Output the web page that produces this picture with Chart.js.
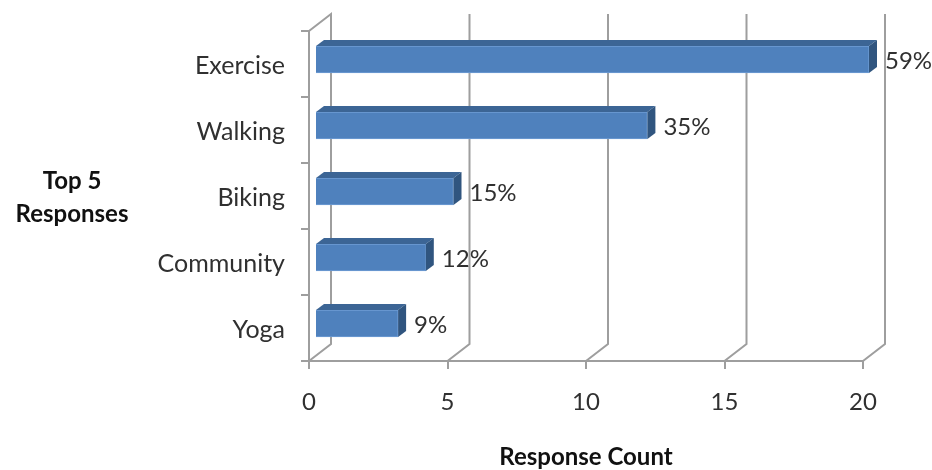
<!DOCTYPE html>
<html>
<head>
<meta charset="utf-8">
<style>html,body{margin:0;padding:0;background:#fff}canvas{display:block}</style>
<script src="https://cdn.jsdelivr.net/npm/chart.js@4"></script>
</head>
<body>
<canvas id="c" width="932" height="470"></canvas>
<script>
const categories = ["Exercise", "Walking", "Biking", "Community", "Yoga"];
const counts = [20, 12, 5, 4, 3];
const percentLabels = ["59%", "35%", "15%", "12%", "9%"];
const xTicks = [0, 5, 10, 15, 20];
const yAxisTitle = ["Top 5", "Responses"];
const xAxisTitle = "Response Count";

const FONT = "Lato, 'Open Sans', sans-serif";
const GREY = "#9e9e9e";
const TEXT = "#303030";
const BAR_SHIFT = {x: 6, y: -4.5};
const BAR_DEPTH = {x: 8, y: -6};
const WALL = {x: 22, y: -17};
const WALL_TOP = 14;

const wallAndBars = {
  id: "wallAndBars",
  beforeDatasetsDraw(chart) {
    const {ctx, scales: {x, y}, chartArea: a} = chart;
    ctx.save();
    ctx.strokeStyle = GREY;
    ctx.lineWidth = 2;
    xTicks.forEach(v => {
      const px = x.getPixelForValue(v);
      ctx.beginPath();
      ctx.moveTo(px, a.bottom);
      ctx.lineTo(px + WALL.x, a.bottom + WALL.y);
      ctx.lineTo(px + WALL.x, WALL_TOP);
      if (v === 0) ctx.lineTo(px, a.top);
      ctx.stroke();
    });
    ctx.restore();
    // bars sit inside the 3-D floor: shift the library's bars forward
    ctx.save();
    ctx.translate(BAR_SHIFT.x, BAR_SHIFT.y);
  },
  afterDatasetsDraw(chart) {
    const {ctx} = chart;
    ctx.restore();
    const bars = chart.getDatasetMeta(0).data;
    bars.forEach((b, i) => {
      const l = b.base + BAR_SHIFT.x, r = b.x + BAR_SHIFT.x;
      const t = b.y - b.height / 2 + BAR_SHIFT.y, bt = b.y + b.height / 2 + BAR_SHIFT.y;
      ctx.fillStyle = "#3c6595";
      ctx.beginPath();
      ctx.moveTo(l, t);
      ctx.lineTo(l + BAR_DEPTH.x, t + BAR_DEPTH.y);
      ctx.lineTo(r + BAR_DEPTH.x, t + BAR_DEPTH.y);
      ctx.lineTo(r, t);
      ctx.closePath();
      ctx.fill();
      ctx.fillStyle = "#30557f";
      ctx.beginPath();
      ctx.moveTo(r, t);
      ctx.lineTo(r + BAR_DEPTH.x, t + BAR_DEPTH.y);
      ctx.lineTo(r + BAR_DEPTH.x, bt + BAR_DEPTH.y);
      ctx.lineTo(r, bt);
      ctx.closePath();
      ctx.fill();
      ctx.fillStyle = TEXT;
      ctx.font = "24px " + FONT;
      ctx.textAlign = "left";
      ctx.textBaseline = "middle";
      ctx.fillText(percentLabels[i], r + 16, (t + bt) / 2 + 1.5);
    });
    ctx.fillStyle = "#111";
    ctx.font = "bold 24px " + FONT;
    ctx.textAlign = "center";
    ctx.fillText(yAxisTitle[0], 72, 181);
    ctx.fillText(yAxisTitle[1], 72, 214);
  }
};

new Chart(document.getElementById("c"), {
  type: "bar",
  data: {
    labels: categories,
    datasets: [{
      data: counts,
      backgroundColor: "#4f81bd",
      borderColor: "#6f9ed6",
      borderWidth: 1,
      barThickness: 27
    }]
  },
  options: {
    indexAxis: "y",
    responsive: false,
    animation: false,
    layout: {padding: {top: 30, right: 69, bottom: 0, left: 0}},
    plugins: {legend: {display: false}, tooltip: {enabled: false}},
    scales: {
      x: {
        min: 0, max: 20,
        afterFit(s) { s.height = 109; },
        afterBuildTicks(s) { s.ticks = xTicks.map(v => ({value: v})); },
        grid: {drawOnChartArea: false, drawTicks: true, tickLength: 8, color: GREY, lineWidth: 2},
        border: {color: GREY, width: 2},
        ticks: {color: TEXT, padding: 19, font: {family: FONT, size: 24}, maxRotation: 0},
        title: {display: true, text: xAxisTitle, color: "#111", padding: {top: 0, bottom: -2},
                font: {family: FONT, size: 24, weight: "bold"}}
      },
      y: {
        afterFit(s) { s.width = 309; },
        grid: {drawOnChartArea: false, drawTicks: true, tickLength: 8, offset: true, color: GREY, lineWidth: 2},
        border: {color: GREY, width: 2},
        ticks: {color: TEXT, padding: 16, labelOffset: 2, font: {family: FONT, size: 25}}
      }
    }
  },
  plugins: [wallAndBars]
});
</script>
</body>
</html>
